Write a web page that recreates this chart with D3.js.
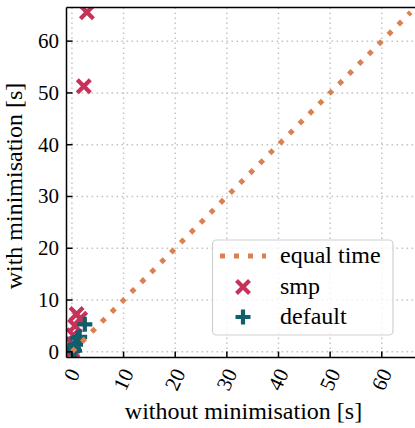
<!DOCTYPE html>
<html>
<head>
<meta charset="utf-8">
<script src="https://cdn.jsdelivr.net/npm/d3@7"></script>
<style>
  body { margin: 0; background: #fff; }
</style>
</head>
<body>
<script>
// data (seconds)
var smpX = [0.1, 0.2, 0.3, 0.6, 0.9, 1.6, 2.3, 2.9];
var smpY = [0.2, 1.5, 3.2, 5.0, 7.3, 6.4, 51.3, 65.6];
var defaultX = [0.1, 0.5, 0.3, 0.7, 1.1, 1.5, 2.5];
var defaultY = [0.1, 0.2, 0.6, 1.4, 2.6, 2.9, 5.3];
var equalTime = [0, 65.6];
var tickValues = [0, 10, 20, 30, 40, 50, 60];
var legendNames = ["equal time", "smp", "default"];

var svgWidth = 415;
var svgHeight = 428;

var plot = { left: 66.5, right: 420, top: 7.5, bottom: 357.5 };

var colSmp = "#c7325b";
var colDefault = "#135e6b";
var colEqual = "#dc8052";
var colGrid = "#c4c4c4";

var svg = d3.select("body")
    .append("svg")
    .attr("width", svgWidth)
    .attr("height", svgHeight)
    .style("display", "block");

var xScale = d3.scaleLinear()
    .domain([-1.05, 67.4])
    .range([plot.left, plot.right]);

var yScale = d3.scaleLinear()
    .domain([-1.1, 66.5])
    .range([plot.bottom, plot.top]);

// text first, so the serif face is picked up before anything else is drawn
var texts = svg.append("g");

// tick labels
var fsTick = 21;
var rot = 65 * Math.PI / 180;
texts.selectAll(".xlabel")
    .data(tickValues)
    .enter()
    .append("text")
    .attr("font-family", "Liberation Serif")
    .attr("font-size", fsTick)
    .attr("text-anchor", "middle")
    .attr("dy", "0.33em")
    .attr("transform", function (d) {
        var w = String(d).length * 0.5 * fsTick;
        var h = 0.66 * fsTick;
        var H = w * Math.sin(rot) + h * Math.cos(rot);
        return `translate(${xScale(d)},${367 + H / 2}) rotate(-65)`;
    })
    .text(d => d);

texts.selectAll(".ylabel")
    .data(tickValues)
    .enter()
    .append("text")
    .attr("font-family", "Liberation Serif")
    .attr("font-size", fsTick)
    .attr("text-anchor", "end")
    .attr("x", 59)
    .attr("y", d => yScale(d) + 7)
    .text(d => d);

// axis titles
texts.append("text")
    .attr("font-family", "Liberation Serif")
    .attr("font-size", 24)
    .attr("x", 243.5)
    .attr("y", 419)
    .attr("text-anchor", "middle")
    .text("without minimisation [s]");

texts.append("text")
    .attr("font-family", "Liberation Serif")
    .attr("font-size", 24)
    .attr("transform", "translate(22,186) rotate(-90)")
    .attr("text-anchor", "middle")
    .text("with minimisation [s]");

svg.append("clipPath")
    .attr("id", "plotclip")
    .append("rect")
    .attr("x", plot.left)
    .attr("y", plot.top)
    .attr("width", plot.right - plot.left)
    .attr("height", plot.bottom - plot.top);

// grid
var grid = svg.append("g").attr("clip-path", "url(#plotclip)");
grid.selectAll(".vgrid")
    .data(tickValues)
    .enter()
    .append("line")
    .attr("x1", d => xScale(d))
    .attr("x2", d => xScale(d))
    .attr("y1", plot.top)
    .attr("y2", plot.bottom)
    .attr("stroke", colGrid)
    .attr("stroke-width", 1.5)
    .attr("stroke-dasharray", "1.6 3.4");
grid.selectAll(".hgrid")
    .data(tickValues)
    .enter()
    .append("line")
    .attr("y1", d => yScale(d))
    .attr("y2", d => yScale(d))
    .attr("x1", plot.left)
    .attr("x2", plot.right)
    .attr("stroke", colGrid)
    .attr("stroke-width", 1.5)
    .attr("stroke-dasharray", "1.6 3.4");

// markers
var xPath = "M-6.5,-6.5L6.5,6.5M-6.5,6.5L6.5,-6.5";
var plusPath = "M-7.5,0L7.5,0M0,-7.5L0,7.5";

var marks = svg.append("g").attr("clip-path", "url(#plotclip)");

marks.selectAll(".smp")
    .data(d3.zip(smpX, smpY))
    .enter()
    .append("path")
    .attr("d", xPath)
    .attr("transform", d => `translate(${xScale(d[0])},${yScale(d[1])})`)
    .attr("stroke", colSmp)
    .attr("stroke-width", 4.2)
    .attr("fill", "none");

marks.selectAll(".default")
    .data(d3.zip(defaultX, defaultY))
    .enter()
    .append("path")
    .attr("d", plusPath)
    .attr("transform", d => `translate(${xScale(d[0])},${yScale(d[1])})`)
    .attr("stroke", colDefault)
    .attr("stroke-width", 4.2)
    .attr("fill", "none");

// equal time line
marks.append("line")
    .attr("x1", xScale(equalTime[0]))
    .attr("y1", yScale(equalTime[0]))
    .attr("x2", xScale(equalTime[1]))
    .attr("y2", yScale(equalTime[1]))
    .attr("stroke", colEqual)
    .attr("stroke-width", 5)
    .attr("stroke-dasharray", "5 9");

// spines
svg.append("line")
    .attr("x1", plot.left).attr("x2", plot.left)
    .attr("y1", plot.top).attr("y2", plot.bottom)
    .attr("stroke", "black").attr("stroke-width", 1.5);
svg.append("line")
    .attr("x1", plot.left).attr("x2", plot.right)
    .attr("y1", plot.bottom).attr("y2", plot.bottom)
    .attr("stroke", "black").attr("stroke-width", 1.5);
svg.append("line")
    .attr("x1", plot.left).attr("x2", plot.right)
    .attr("y1", plot.top).attr("y2", plot.top)
    .attr("stroke", "black").attr("stroke-width", 1.5);

// ticks (inward)
svg.selectAll(".xtick")
    .data(tickValues)
    .enter()
    .append("line")
    .attr("x1", d => xScale(d)).attr("x2", d => xScale(d))
    .attr("y1", plot.bottom).attr("y2", plot.bottom - 6)
    .attr("stroke", "black").attr("stroke-width", 1.5);
svg.selectAll(".ytick")
    .data(tickValues)
    .enter()
    .append("line")
    .attr("y1", d => yScale(d)).attr("y2", d => yScale(d))
    .attr("x1", plot.left).attr("x2", plot.left + 6)
    .attr("stroke", "black").attr("stroke-width", 1.5);

// legend
var legend = svg.append("g");
legend.append("rect")
    .attr("x", 212.5).attr("y", 240)
    .attr("width", 180.5).attr("height", 95)
    .attr("rx", 4)
    .attr("fill", "white").attr("fill-opacity", 0.8)
    .attr("stroke", "#d0d0d0").attr("stroke-width", 1.2);

legend.append("line")
    .attr("x1", 220).attr("x2", 266)
    .attr("y1", 256).attr("y2", 256)
    .attr("stroke", colEqual)
    .attr("stroke-width", 5)
    .attr("stroke-dasharray", "5 9");
legend.append("path")
    .attr("d", xPath)
    .attr("transform", "translate(243,287)")
    .attr("stroke", colSmp).attr("stroke-width", 4.2).attr("fill", "none");
legend.append("path")
    .attr("d", plusPath)
    .attr("transform", "translate(243,317)")
    .attr("stroke", colDefault).attr("stroke-width", 4.2).attr("fill", "none");

var legendY = [256, 287, 317];
legend.selectAll(".legtext")
    .data(legendNames)
    .enter()
    .append("text")
    .attr("font-family", "Liberation Serif")
    .attr("font-size", 24)
    .attr("x", 280)
    .attr("y", (d, i) => legendY[i] + 7)
    .text(d => d);
</script>
</body>
</html>
